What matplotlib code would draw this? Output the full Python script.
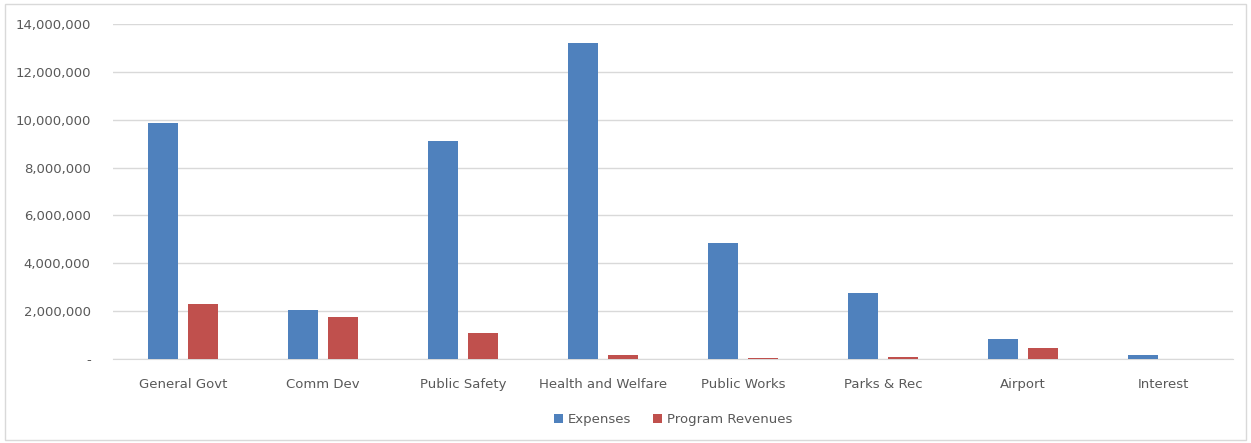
import numpy as np
import matplotlib.pyplot as plt
from matplotlib.ticker import FuncFormatter
from matplotlib.patches import Rectangle

categories = ['General Govt', 'Comm Dev', 'Public Safety', 'Health and Welfare',
              'Public Works', 'Parks & Rec', 'Airport', 'Interest']
expenses = [9860000, 2050000, 9110000, 13200000, 4850000, 2750000, 850000, 150000]
revenues = [2290000, 1750000, 1070000, 170000, 30000, 100000, 470000, 0]

blue = '#4f81bd'
red = '#c0504d'
grey = '#595959'

fig = plt.figure(figsize=(12.51, 4.43), dpi=100)
ax = fig.add_axes([0.0903, 0.1896, 0.8953, 0.7562])

x = np.arange(len(categories))
w = 0.215
gap = 0.065
ax.bar(x - (w + gap) / 2, expenses, w, color=blue, label='Expenses', zorder=3)
ax.bar(x + (w + gap) / 2, revenues, w, color=red, label='Program Revenues', zorder=3)

ax.set_xlim(-0.5, len(categories) - 0.5)
ax.set_ylim(0, 14000000)
ax.set_yticks(np.arange(0, 14000001, 2000000))
ax.yaxis.set_major_formatter(FuncFormatter(lambda v, p: '-' if v == 0 else f'{int(v):,}'))
ax.set_xticks(x)
ax.set_xticklabels(categories)

ax.grid(axis='y', color='#d9d9d9', linewidth=1, zorder=0)
for s in ['top', 'right', 'left']:
    ax.spines[s].set_visible(False)
ax.spines['bottom'].set_color('#d9d9d9')
ax.tick_params(axis='both', length=0, labelsize=9.5, colors=grey)
ax.tick_params(axis='x', pad=14)
ax.tick_params(axis='y', pad=16)

ax.legend(loc='center', bbox_to_anchor=(0.5, -0.18), ncol=2, frameon=False,
          fontsize=9.5, handlelength=0.7, handleheight=0.7, handletextpad=0.4,
          columnspacing=1.6, labelcolor=grey)

# light frame around the chart area
fig.patches.append(Rectangle((0.004, 0.007), 0.992, 0.983, transform=fig.transFigure,
                             fill=False, edgecolor='#d9d9d9', linewidth=1))

fig.savefig('out.png', dpi=100)
